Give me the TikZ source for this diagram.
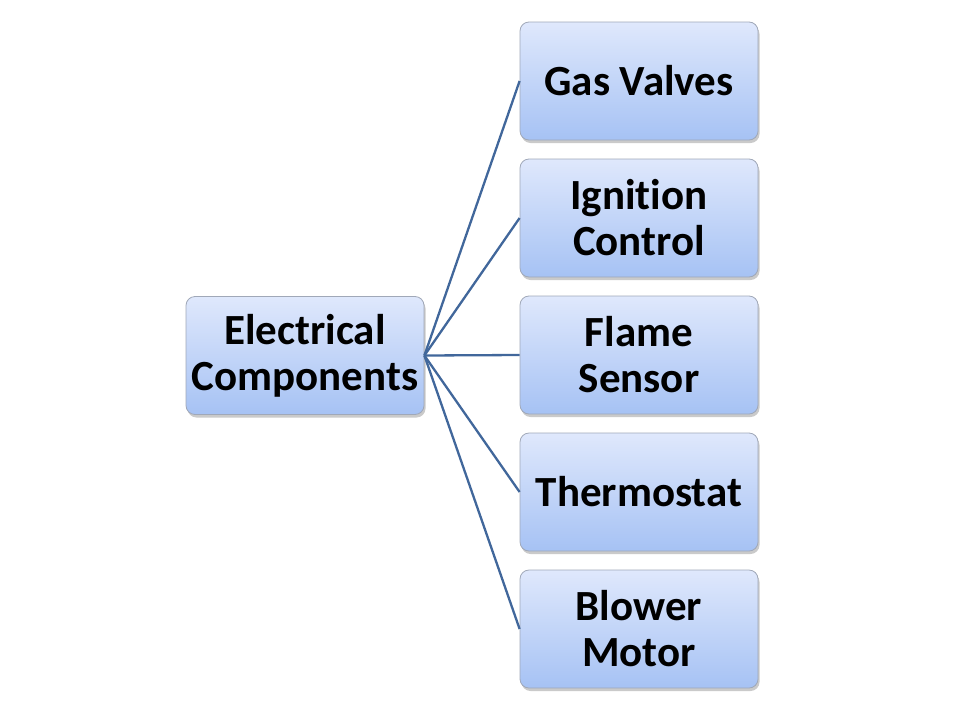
\documentclass[tikz,border=0pt]{standalone}
\usepackage{fontspec}
\setmainfont[RawFeature=-liga]{Carlito}
\usetikzlibrary{shadows}
\definecolor{boxtop}{HTML}{DFE8FC}
\definecolor{boxbot}{HTML}{A6C2F4}
\definecolor{boxline}{HTML}{A0A8B8}
\definecolor{conn}{HTML}{41679B}
\tikzset{
  x=1pt,y=-1pt,
  cbox/.style={rectangle, rounded corners=9pt, minimum width=238pt, minimum height=118pt,
    top color=boxtop, bottom color=boxbot, draw=boxline, line width=0.8pt,
    align=center, font=\fontsize{43}{46}\selectfont\bfseries, text=black,
    drop shadow={shadow xshift=1.5pt, shadow yshift=-3pt, opacity=0.35, fill=black!60}},
  conline/.style={draw=conn, line width=2.3pt}
}
\begin{document}
\begin{tikzpicture}
\useasboundingbox (0,0) rectangle (960,720);
\node[cbox] (root) at (305,355.5) {Electrical\\Components};
\node[cbox] (gas) at (639,81) {Gas Valves};
\node[cbox] (ign) at (639,218) {Ignition\\Control};
\node[cbox] (flame) at (639,355) {Flame\\Sensor};
\node[cbox] (thermo) at (639,492) {Thermostat};
\node[cbox] (blower) at (639,629) {Blower\\Motor};
\foreach \n in {gas,ign,flame,thermo,blower}
  \draw[conline] (root.east) -- (\n.west);
\end{tikzpicture}
\end{document}
